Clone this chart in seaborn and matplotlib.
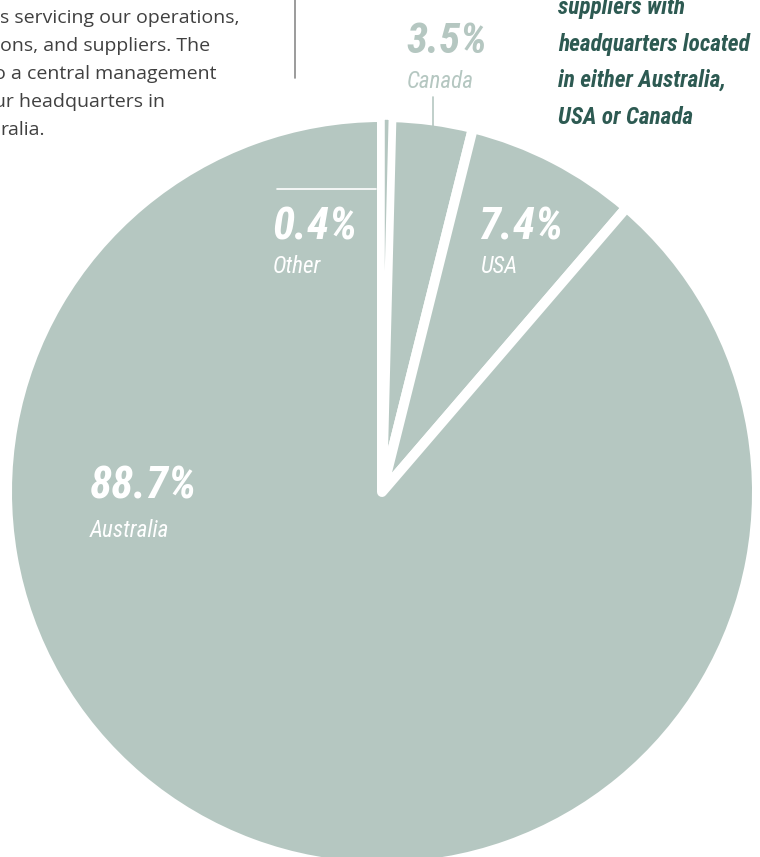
import matplotlib
matplotlib.use('Agg')
import matplotlib.pyplot as plt
from matplotlib import font_manager
import seaborn as sns

# ---- data ----
regions = ['Other', 'Canada', 'USA', 'Australia']
shares = [0.4, 3.5, 7.4, 88.7]
share_labels = ['0.4%', '3.5%', '7.4%', '88.7%']
intro_lines = ['s servicing our operations,',
               'ons, and suppliers. The',
               'o a central management',
               'ur headquarters in',
               'ralia.']
callout_lines = ['suppliers with', 'headquarters located',
                 'in either Australia,', 'USA or Canada']

sns.set_theme(style='white')
available = {f.name for f in font_manager.fontManager.ttflist}
candidates = ['Roboto Condensed', 'DejaVu Sans Condensed', 'Liberation Sans Narrow',
              'Open Sans Condensed', 'Roboto']
cond = [c for c in candidates if c in available] or ['DejaVu Sans']
COND = [cond[0], 'DejaVu Sans']
plt.rcParams['font.family'] = COND

PIE = '#b5c7c1'
DARK = '#2d5a52'
GREY = '#404040'
W, H = 760, 857

fig = plt.figure(figsize=(7.6, 8.57), dpi=100)
ax = fig.add_axes([0, 0, 1, 1])


def Y(y):
    return H - y


wedges, _ = ax.pie(shares, startangle=90, counterclock=False,
                   colors=[PIE] * len(shares), center=(382, Y(492)), radius=375,
                   frame=True,
                   wedgeprops=dict(edgecolor='white', linewidth=7.2, joinstyle='round'))
wedges[0].set_zorder(3)
wedges[0].set_linewidth(4)

ax.set_xlim(0, W)
ax.set_ylim(0, H)
ax.set_aspect('equal')
ax.axis('off')

fig.canvas.draw()
rend = fig.canvas.get_renderer()


def fit(t, target_w):
    bb = t.get_window_extent(renderer=rend)
    s = t.get_fontsize() * target_w / bb.width
    t.set_fontsize(s)
    return s


big = dict(fontsize=32, fontweight='bold', fontstyle='italic', va='baseline', ha='left',
           fontstretch='condensed', zorder=5)
small = dict(fontsize=15, fontstyle='italic', va='baseline', ha='left',
             fontstretch='condensed', zorder=5)

# sizes derived from the Australia label widths (reference font is narrower, so a bit wider)
t_aus = ax.text(90, Y(498), share_labels[3], color='white', **big)
BIG = fit(t_aus, 96) * 1.12
t_aus.set_fontsize(BIG)
t_auslab = ax.text(90, Y(537), regions[3], color='white', **small)
SMALL = fit(t_auslab, 71) * 1.12
t_auslab.set_fontsize(SMALL)

# Other
ax.text(272, Y(239), share_labels[0], color='white', **{**big, 'fontsize': BIG})
ax.text(273, Y(273), regions[0], color='white', **{**small, 'fontsize': SMALL})
ax.plot([277, 376], [Y(189), Y(189)], color='white', lw=1.2, zorder=5)
# Canada (outside)
ax.text(406, Y(53), share_labels[1], color=PIE, **{**big, 'fontsize': BIG * 0.95})
ax.text(407, Y(88), regions[1], color=PIE, **{**small, 'fontsize': SMALL})
ax.plot([433, 433], [Y(97), Y(127)], color=PIE, lw=1.2, zorder=5)
# USA
ax.text(478, Y(239), share_labels[2], color='white', **{**big, 'fontsize': BIG})
ax.text(480, Y(273), regions[2], color='white', **{**small, 'fontsize': SMALL})

# left intro paragraph (cropped)
for i, line in enumerate(intro_lines):
    ax.text(0 if i not in (2, 3) else -6, Y(23 + 28 * i), line, color=GREY,
            fontsize=14, family=['Open Sans', 'DejaVu Sans'],
            va='baseline', ha='left', zorder=5)
ax.plot([295, 295], [Y(0), Y(78)], color='#8a8a8a', lw=1.2)

# right callout
callout = []
for i, line in enumerate(callout_lines):
    callout.append(ax.text(558, Y(14 + 36.5 * i), line, color=DARK, fontsize=17,
                           fontweight='bold', fontstyle='italic', fontstretch='condensed',
                           va='baseline', ha='left', zorder=5))
s = fit(callout[1], 192)
for t in callout:
    t.set_fontsize(s)

fig.savefig('out.png', dpi=100)
